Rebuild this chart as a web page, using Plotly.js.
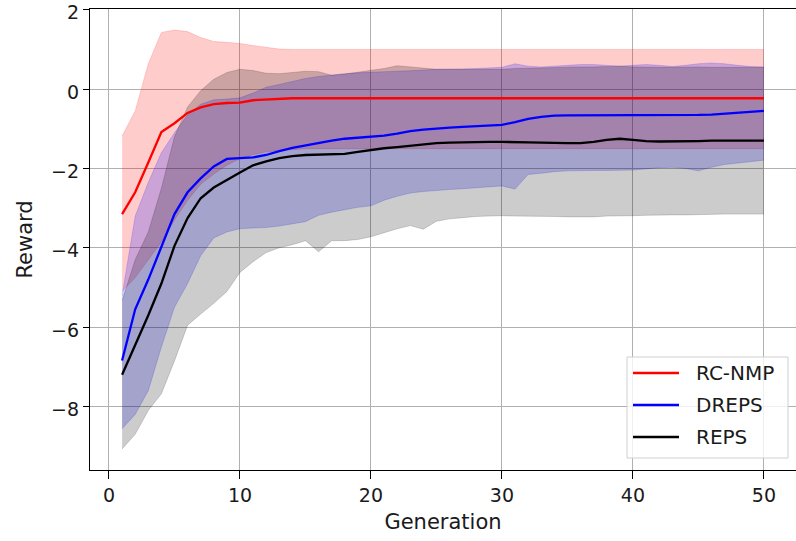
<!DOCTYPE html>
<html>
<head>
<meta charset="utf-8">
<script src="https://cdn.plot.ly/plotly-3.0.1.min.js"></script>
<style>
html,body{margin:0;padding:0;background:#fff;overflow:hidden;}
#chart{width:796px;height:541px;}
</style>
</head>
<body>
<div id="chart"></div>
<script>
const generation = [1,2,3,4,5,6,7,8,9,10,11,12,13,14,15,16,17,18,19,20,21,22,23,24,25,26,27,28,29,30,31,32,33,34,35,36,37,38,39,40,41,42,43,44,45,46,47,48,49,50];

const seriesNames = ["RC-NMP", "DREPS", "REPS"];

// RC-NMP
const rcnmpMean = [-3.15,-2.6,-1.85,-1.08,-0.86,-0.6,-0.46,-0.38,-0.35,-0.34,
  -0.28,-0.26,-0.24,-0.23,-0.23,-0.23,-0.23,-0.23,-0.23,-0.23,
  -0.23,-0.23,-0.23,-0.23,-0.23,-0.23,-0.23,-0.23,-0.23,-0.23,
  -0.23,-0.23,-0.23,-0.23,-0.23,-0.23,-0.23,-0.23,-0.23,-0.23,
  -0.23,-0.23,-0.23,-0.23,-0.23,-0.23,-0.23,-0.23,-0.23,-0.23];
const rcnmpUpper = [-1.18,-0.55,0.64,1.43,1.49,1.45,1.3,1.2,1.18,1.15,
  1.1,1.05,1.01,1.0,1.0,1.0,1.0,1.0,1.0,1.0,
  1.0,1.0,1.0,1.0,1.0,1.0,1.0,1.0,1.0,1.0,
  1.0,1.0,1.0,1.0,1.0,1.0,1.0,1.0,1.0,1.0,
  1.0,1.0,1.0,1.0,1.0,1.0,1.0,1.0,1.0,1.0];
const rcnmpLower = [-5.1,-4.75,-4.3,-3.85,-3.3,-2.8,-2.4,-2.14,-1.92,-1.75,
  -1.65,-1.58,-1.55,-1.52,-1.5,-1.5,-1.5,-1.5,-1.5,-1.5,
  -1.5,-1.5,-1.5,-1.5,-1.5,-1.5,-1.5,-1.5,-1.5,-1.5,
  -1.5,-1.5,-1.5,-1.5,-1.5,-1.5,-1.5,-1.5,-1.5,-1.5,
  -1.5,-1.5,-1.5,-1.5,-1.5,-1.5,-1.5,-1.5,-1.5,-1.5];

// DREPS
const drepsMean = [-6.84,-5.55,-4.8,-3.96,-3.15,-2.6,-2.25,-1.95,-1.76,-1.74,
  -1.72,-1.66,-1.56,-1.48,-1.42,-1.35,-1.3,-1.25,-1.22,-1.2,
  -1.17,-1.12,-1.06,-1.02,-0.99,-0.97,-0.95,-0.93,-0.92,-0.9,
  -0.83,-0.75,-0.7,-0.67,-0.66,-0.66,-0.66,-0.66,-0.66,-0.66,
  -0.66,-0.66,-0.66,-0.66,-0.65,-0.64,-0.62,-0.6,-0.57,-0.55];
const drepsUpper = [-5.2,-3.2,-2.35,-1.6,-1.1,-0.65,-0.38,-0.27,-0.25,-0.22,
  -0.1,0.05,0.12,0.2,0.27,0.32,0.36,0.39,0.41,0.43,
  0.44,0.45,0.46,0.48,0.5,0.5,0.51,0.52,0.53,0.55,
  0.64,0.58,0.56,0.58,0.6,0.62,0.62,0.6,0.58,0.6,
  0.62,0.6,0.57,0.6,0.64,0.66,0.64,0.6,0.57,0.56];
const drepsLower = [-8.56,-8.2,-7.6,-6.5,-5.5,-4.9,-4.2,-3.75,-3.6,-3.52,
  -3.5,-3.49,-3.45,-3.4,-3.34,-3.18,-3.1,-3.04,-2.98,-2.94,
  -2.8,-2.7,-2.62,-2.58,-2.55,-2.53,-2.51,-2.49,-2.46,-2.44,
  -2.52,-2.15,-2.12,-2.08,-2.06,-2.05,-2.05,-2.05,-2.04,-2.04,
  -2.01,-1.98,-1.97,-2.0,-2.06,-1.97,-1.9,-1.86,-1.82,-1.79];

// REPS
const repsMean = [-7.2,-6.45,-5.7,-4.9,-3.95,-3.25,-2.75,-2.48,-2.28,-2.1,
  -1.92,-1.82,-1.74,-1.69,-1.66,-1.65,-1.64,-1.63,-1.58,-1.53,
  -1.49,-1.46,-1.43,-1.39,-1.36,-1.35,-1.34,-1.34,-1.33,-1.33,
  -1.33,-1.34,-1.35,-1.36,-1.36,-1.36,-1.33,-1.28,-1.25,-1.28,
  -1.31,-1.32,-1.32,-1.31,-1.31,-1.3,-1.3,-1.3,-1.3,-1.3];
const repsUpper = [-5.33,-4.3,-3.6,-2.5,-1.2,-0.45,-0.04,0.25,0.42,0.5,
  0.47,0.4,0.39,0.42,0.45,0.44,0.35,0.38,0.43,0.47,
  0.52,0.59,0.56,0.52,0.5,0.5,0.5,0.5,0.5,0.5,
  0.52,0.53,0.54,0.55,0.55,0.56,0.56,0.57,0.58,0.56,
  0.55,0.55,0.55,0.56,0.56,0.55,0.55,0.55,0.55,0.55];
const repsLower = [-9.07,-8.7,-8.1,-7.68,-6.85,-5.95,-5.67,-5.4,-5.1,-4.62,
  -4.35,-4.12,-4.0,-3.92,-3.82,-4.1,-3.82,-3.82,-3.79,-3.72,
  -3.62,-3.52,-3.44,-3.53,-3.33,-3.27,-3.24,-3.21,-3.2,-3.19,
  -3.2,-3.2,-3.2,-3.21,-3.22,-3.22,-3.22,-3.2,-3.2,-3.19,
  -3.18,-3.17,-3.17,-3.17,-3.16,-3.15,-3.15,-3.15,-3.15,-3.15];

const yTicks = [-8,-6,-4,-2,0,2];
const xTicks = [0,10,20,30,40,50];

const lineColors = ["#ff0000", "#0000ff", "#000000"];
const bandColors = ["rgba(255,0,0,0.2)", "rgba(0,0,255,0.2)", "rgba(0,0,0,0.2)"];

const means = [rcnmpMean, drepsMean, repsMean];
const uppers = [rcnmpUpper, drepsUpper, repsUpper];
const lowers = [rcnmpLower, drepsLower, repsLower];

const traces = [];
for (let i = 0; i < 3; i++) {
  traces.push({
    x: generation, y: uppers[i], type: "scatter", mode: "lines",
    line: {width: 0.8, color: bandColors[i]}, showlegend: false, hoverinfo: "skip"
  });
  traces.push({
    x: generation, y: lowers[i], type: "scatter", mode: "lines",
    line: {width: 0.8, color: bandColors[i]}, fill: "tonexty", fillcolor: bandColors[i],
    showlegend: false, hoverinfo: "skip"
  });
}
for (let i = 0; i < 3; i++) {
  traces.push({
    x: generation, y: means[i], type: "scatter", mode: "lines",
    name: seriesNames[i], line: {width: 2.3, color: lineColors[i]},
    showlegend: false
  });
}

// page geometry (pixels)
const W = 796, H = 541;
const M = {l: 90, r: 0, t: 9, b: 71};
const plotW = W - M.l - M.r, plotH = H - M.t - M.b;
const px2x = p => (p - M.l) / plotW;
const py2y = p => (H - M.b - p) / plotH;

// matplotlib-style legend box drawn with shapes and annotations
const legBox = {x0: 627, x1: 788, y0: 357, y1: 458};
const legRowY = [373, 405, 437];
const legLine = {x0: 633, x1: 679};
const legTextX = 694;

const shapes = [{
  type: "rect", xref: "paper", yref: "paper", layer: "above",
  x0: px2x(legBox.x0), x1: px2x(legBox.x1), y0: py2y(legBox.y1), y1: py2y(legBox.y0),
  fillcolor: "rgba(255,255,255,0.8)", line: {color: "#d0d0d0", width: 1}
}];
const annotations = [];
for (let i = 0; i < 3; i++) {
  shapes.push({
    type: "line", xref: "paper", yref: "paper", layer: "above",
    x0: px2x(legLine.x0), x1: px2x(legLine.x1), y0: py2y(legRowY[i]), y1: py2y(legRowY[i]),
    line: {color: lineColors[i], width: 2.5}
  });
  annotations.push({
    xref: "paper", yref: "paper", x: px2x(legTextX), y: py2y(legRowY[i]),
    xanchor: "left", yanchor: "middle", showarrow: false, text: seriesNames[i],
    font: {family: "DejaVu Sans", size: 20, color: "#1a1a1a"}
  });
}

const tickFont = {family: "DejaVu Sans", size: 19, color: "#1a1a1a"};
const labelFont = {family: "DejaVu Sans", size: 21, color: "#1a1a1a"};

const layout = {
  width: W, height: H,
  margin: {l: M.l, r: M.r, t: M.t, b: M.b, pad: 0},
  paper_bgcolor: "#ffffff", plot_bgcolor: "#ffffff",
  font: tickFont,
  showlegend: false,
  shapes: shapes,
  annotations: annotations,
  xaxis: {
    range: [-1.45, 52.45], tickvals: xTicks, ticktext: xTicks.map(String),
    showgrid: true, gridcolor: "#b0b0b0", gridwidth: 1, zeroline: false,
    showline: true, linecolor: "#000000", linewidth: 1.2, mirror: true,
    ticks: "outside", ticklen: 8, tickcolor: "#000000", tickwidth: 1,
    tickfont: tickFont, ticklabeloverflow: "allow",
    title: {text: "Generation", font: labelFont, standoff: 9}
  },
  yaxis: {
    range: [-9.6, 2.02], tickvals: yTicks, ticktext: yTicks.map(v => v < 0 ? "\u2212" + Math.abs(v) : String(v)),
    showgrid: true, gridcolor: "#b0b0b0", gridwidth: 1, zeroline: false,
    showline: true, linecolor: "#000000", linewidth: 1.2, mirror: false,
    ticks: "outside", ticklen: 6, tickcolor: "#000000", tickwidth: 1,
    tickfont: tickFont, ticklabeloverflow: "allow", ticklabelshift: 3,
    title: {text: "Reward", font: labelFont, standoff: 12}
  }
};

Plotly.newPlot("chart", traces, layout, {displayModeBar: false, staticPlot: true});
</script>
</body>
</html>
